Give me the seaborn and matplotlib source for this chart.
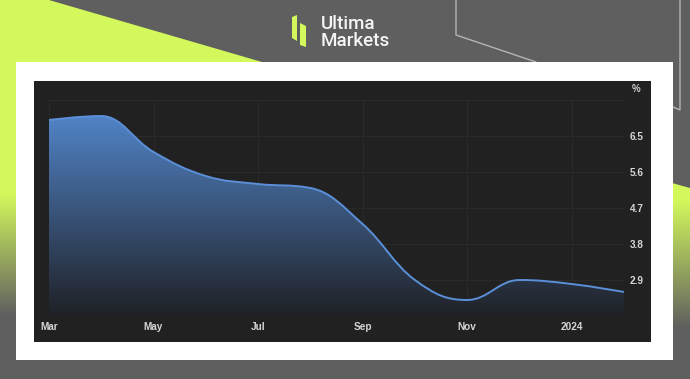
import numpy as np
import pandas as pd
import matplotlib
matplotlib.use("Agg")
import matplotlib.pyplot as plt
from matplotlib.path import Path
from matplotlib.patches import PathPatch, Polygon, Rectangle
from matplotlib.colors import to_rgb
import seaborn as sns

# ---- data (Eurozone CPI YoY, %) ----
months = ["Mar", "Apr", "May", "Jun", "Jul", "Aug", "Sep", "Oct", "Nov", "Dec", "Jan", "Feb"]
values = [6.9, 7.0, 6.1, 5.5, 5.3, 5.2, 4.3, 2.9, 2.4, 2.9, 2.8, 2.6]
xtick_labels = ["Mar", "May", "Jul", "Sep", "Nov", "2024"]
ytick_values = [2.0, 2.9, 3.8, 4.7, 5.6, 6.5, 7.4]
ytick_labels = ["", "2.9", "3.8", "4.7", "5.6", "6.5", ""]

sns.set_style("dark")
plt.rcParams["font.family"] = ["Liberation Sans", "DejaVu Sans"]

W, H = 690, 379
fig = plt.figure(figsize=(W / 100, H / 100), dpi=100)
GRAY = "#5f5f5f"
LIME = "#d3f85c"
fig.patch.set_facecolor(GRAY)

# ---- background decoration (pixel coordinates) ----
bg = fig.add_axes([0, 0, 1, 1])
bg.set_xlim(0, W)
bg.set_ylim(H, 0)
bg.axis("off")
bg.set_facecolor(GRAY)


def grad_img(c1, c2, n=200):
    a = np.array(to_rgb(c1))
    b = np.array(to_rgb(c2))
    t = np.linspace(0, 1, n)[:, None]
    return (a * (1 - t) + b * t)[:, None, :]

# left lime wedge
bg.add_patch(Polygon([(0, 0), (49, 0), (262, 62), (262, 195), (0, 195)],
                     closed=True, fc=LIME, ec="none", zorder=1))
bg.imshow(grad_img(LIME, GRAY), extent=(0, 18, 315, 194), origin="upper",
          aspect="auto", zorder=1, interpolation="bilinear")

# right lime strip
clip = Polygon([(672, 183), (690, 188), (690, 330), (672, 330)], closed=True,
               fc="none", ec="none", transform=bg.transData)
bg.add_patch(clip)
im = bg.imshow(grad_img(LIME, GRAY), extent=(672, 690, 328, 200), origin="upper",
               aspect="auto", zorder=1, interpolation="bilinear")
im.set_clip_path(clip)
bg.add_patch(Rectangle((672, 183), 18, 18, fc=LIME, ec="none", zorder=1, clip_path=clip))

# light outline lines
bg.plot([456, 456, 536], [0, 35, 62], color="#b5b5b5", lw=1.0, zorder=2)
bg.plot([680, 680, 673], [0, 110, 107], color="#b5b5b5", lw=1.0, zorder=2)

# white card and dark chart panel
bg.add_patch(Rectangle((16, 62), 657, 298, fc="white", ec="none", zorder=3))
bg.add_patch(Rectangle((34, 81), 617, 261, fc="#212121", ec="none", zorder=4))

# logo
bg.add_patch(Polygon([(292, 17), (297, 15), (297, 41), (292, 38)], closed=True,
                     fc=LIME, ec="none", zorder=5))
bg.add_patch(Polygon([(300, 23), (306, 26), (306, 47), (300, 45)], closed=True,
                     fc=LIME, ec="none", zorder=5))
bg.text(321, 32.5, "Ultima\nMarkets", color="#f4f4f4", fontsize=13.5, family="Roboto",
        fontweight="medium", va="center", ha="left", linespacing=0.95, zorder=5)
bg.text(636, 89, "%", color="#d0d0d0", fontsize=7, fontweight="bold",
        ha="center", va="center", zorder=5)

# ---- chart axes ----
x0, x1, ytop, ybot = 49, 624, 100, 316
ax = fig.add_axes([x0 / W, (H - ybot) / H, (x1 - x0) / W, (ybot - ytop) / H])
ax.set_facecolor("none")
df = pd.DataFrame({"idx": np.arange(len(months)), "month": months, "value": values})
sns.lineplot(data=df, x="idx", y="value", ax=ax, color="#5b8fd8", lw=1.4)
ax.set_xlim(0, len(months) - 1)
ax.set_ylim(ytick_values[0], ytick_values[-1])

# smooth (Highcharts-like spline) path from the drawn line's points
line = ax.lines[0]
pts = line.get_xydata()
line.set_visible(False)
n = len(pts)
lc = [None] * n
rc = [None] * n
sm, den = 1.5, 2.5
for i in range(n):
    px, py = pts[i]
    if i == 0 or i == n - 1:
        lc[i] = (px, py)
        rc[i] = (px, py)
        continue
    lx, ly = pts[i - 1]
    nx, ny = pts[i + 1]
    lcx = (sm * px + lx) / den
    lcy = (sm * py + ly) / den
    rcx = (sm * px + nx) / den
    rcy = (sm * py + ny) / den
    corr = ((rcy - lcy) * (rcx - px)) / (rcx - lcx) + py - rcy
    lcy += corr
    rcy += corr
    if lcy > ly and lcy > py:
        lcy = max(ly, py); rcy = 2 * py - lcy
    elif lcy < ly and lcy < py:
        lcy = min(ly, py); rcy = 2 * py - lcy
    if rcy > ny and rcy > py:
        rcy = max(ny, py); lcy = 2 * py - rcy
    elif rcy < ny and rcy < py:
        rcy = min(ny, py); lcy = 2 * py - rcy
    lc[i] = (lcx, lcy)
    rc[i] = (rcx, rcy)

verts = [tuple(pts[0])]
codes = [Path.MOVETO]
for i in range(1, n):
    verts += [rc[i - 1], lc[i], tuple(pts[i])]
    codes += [Path.CURVE4] * 3
curve_path = Path(verts, codes)

ymin = ytick_values[0]
fverts = verts + [(pts[-1][0], ymin), (pts[0][0], ymin), tuple(pts[0])]
fcodes = codes + [Path.LINETO, Path.LINETO, Path.CLOSEPOLY]
fill_patch = PathPatch(Path(fverts, fcodes), fc="none", ec="none")
ax.add_patch(fill_patch)
gimg = ax.imshow(grad_img("#5183c6", "#1f2126"), extent=(pts[0][0], pts[-1][0], ymin, max(values)),
                 origin="upper", aspect="auto", zorder=1, interpolation="bilinear")
gimg.set_clip_path(fill_patch)
ax.add_patch(PathPatch(curve_path, fc="none", ec="#5b8fd8", lw=1.4, zorder=3))

# ticks / grid
ax.set_xticks(np.arange(0, len(months), 2))
ax.set_xticklabels(xtick_labels, fontweight="bold")
ax.set_yticks(ytick_values)
ax.set_yticklabels(ytick_labels, fontweight="bold")
ax.yaxis.tick_right()
ax.tick_params(axis="both", length=0, colors="#d6d6d6", labelsize=7.2)
ax.tick_params(axis="x", pad=4)
ax.tick_params(axis="y", pad=4)
ax.grid(True, color="#2a2a2a", lw=0.8)
ax.axvline(len(months) - 1, color="#2a2a2a", lw=0.8, zorder=0)
ax.set_xlabel("")
ax.set_ylabel("")
for s in ax.spines.values():
    s.set_visible(False)

fig.savefig("out.png", dpi=100, facecolor=fig.get_facecolor())
